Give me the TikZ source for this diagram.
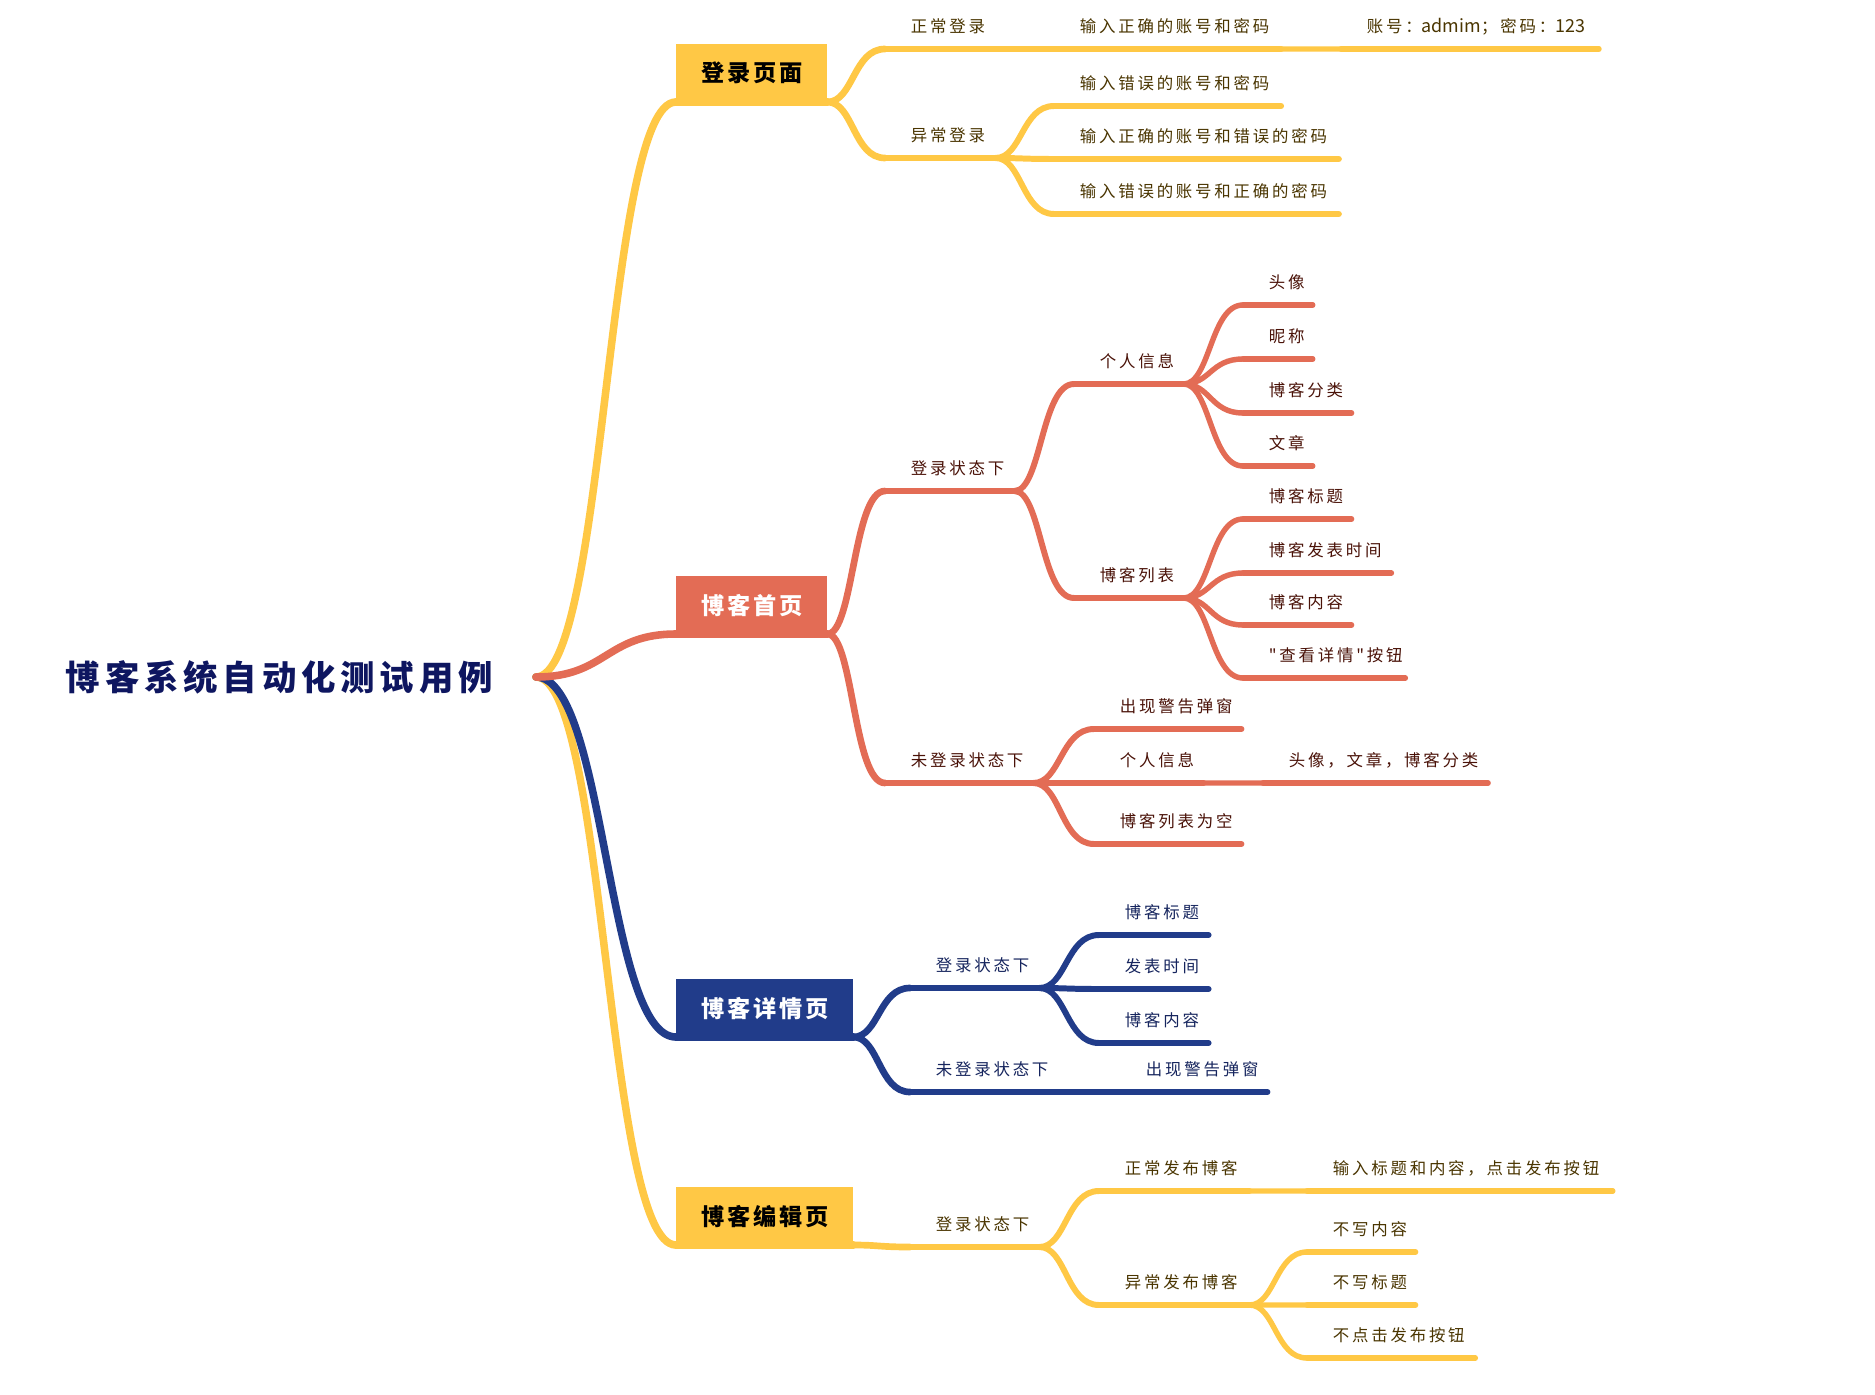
\documentclass[tikz,border=0pt]{standalone}
\usepackage{fontspec}
\usetikzlibrary{calc}
\newfontfamily\cjk[LetterSpace=17]{Noto Sans CJK SC}
\newfontfamily\cjkplain{Noto Sans CJK SC}
\newfontfamily\cjkbox[LetterSpace=12]{Noto Sans CJK SC}
\newfontfamily\cjkroot[LetterSpace=14]{Noto Sans CJK SC}
\definecolor{yel}{HTML}{FFC845}
\definecolor{rdc}{HTML}{E36C55}
\definecolor{blu}{HTML}{213C8A}
\definecolor{ytext}{HTML}{4A3500}
\definecolor{rtext}{HTML}{4A1208}
\definecolor{btext}{HTML}{16255E}
\definecolor{roottext}{HTML}{0E1660}
\newdimen\px \px=0.5669pt
\tikzset{
  lab/.style={inner sep=0pt, outer sep=0pt, text height=11pt, text depth=9.2pt, font=\cjk\fontsize{9.35pt}{11pt}\selectfont},
  ln/.style={line cap=round},
  yb/.style={color=yel, text=ytext},
  rb/.style={color=rdc, text=rtext},
  bb/.style={color=blu, text=btext},
  lA/.style={line width=4.3pt},
  lB/.style={line width=3.8pt},
  lC/.style={line width=3.4pt},
  lD/.style={line width=3.1pt},
  boxnode/.style={inner sep=0pt, outer sep=0pt, anchor=south west, minimum height=58\px, font=\cjkbox\bfseries\fontsize{13.2pt}{15pt}\selectfont},
}
% child node: #1 style, #2 name, #3 x, #4 y, #5 width(px), #6 text, #7 parent point
\newcommand\kid[7]{%
  \node[lab,#1,anchor=south west] (#2) at (#3,#4) {\makebox[#5\px][l]{\hspace*{14.74pt}#6}};
  \draw[ln,#1] (#2.south west) -- (#2.south east);
  \draw[ln,#1] (#7) .. controls ($(#7)!0.45!(#7 -| #2.south west)$) and ($(#2.south west)!0.55!(#2.south west -| #7)$) .. (#2.south west);
}
\newcommand\mainconn[3]{%
  \draw[ln,#1] (#2) .. controls ($(#2)!0.5!(#2 -| #3)$) and ($(#3)!0.5!(#3 -| #2)$) .. (#3);
}
\begin{document}
\begin{tikzpicture}[x=0.02cm,y=-0.02cm]
\useasboundingbox (0,0) rectangle (1875,1395);
\fill[white] (0,0) rectangle (1875,1395);

% root
\node[inner ysep=0pt, inner xsep=43\px, anchor=east, text=roottext,
      font=\cjkroot\bfseries\fontsize{19.6pt}{24pt}\selectfont] (root) at (536,677) {博客系统自动化测试用例};

% main boxes
\node[boxnode, fill=yel, text=black, minimum width=152\px] (L) at (676,102) {登录页面};
\node[boxnode, fill=rdc, text=white, minimum width=152\px] (H) at (676,634) {博客首页};
\node[boxnode, fill=blu, text=white, minimum width=178\px] (D) at (676,1037) {博客详情页};
\node[boxnode, fill=yel, text=black, minimum width=178\px] (E) at (676,1245) {博客编辑页};

% main connectors (draw blue/yellow lower first)
\mainconn{yel,lA}{root.east}{E.south west}
\mainconn{blu,lA}{root.east}{D.south west}
\mainconn{yel,lA}{root.east}{L.south west}
\mainconn{rdc,lA}{root.east}{H.south west}
\draw[ln,yel,lA] (L.south west) -- (L.south east);
\draw[ln,rdc,lA] (H.south west) -- (H.south east);
\draw[ln,blu,lA] (D.south west) -- (D.south east);
\draw[ln,yel,lA] (E.south west) -- (E.south east);

% ---- 登录页面
\kid{yb,lB}{a1}{885}{49}{111}{正常登录}{L.south east}
\kid{yb,lC}{a11}{1054}{49}{228}{输入正确的账号和密码}{a1.south east}
\kid{yb,lD}{a111}{1341}{49}{259}{账号：{\cjkplain\fontsize{10.2pt}{11pt}\selectfont admim}；密码：{\cjkplain\fontsize{10.2pt}{11pt}\selectfont 123}}{a11.south east}
\kid{yb,lB}{a2}{885}{158}{111}{异常登录}{L.south east}
\kid{yb,lC}{a21}{1054}{106}{228}{输入错误的账号和密码}{a2.south east}
\kid{yb,lC}{a22}{1054}{159}{286}{输入正确的账号和错误的密码}{a2.south east}
\kid{yb,lC}{a23}{1054}{214}{286}{输入错误的账号和正确的密码}{a2.south east}

% ---- 博客首页
\kid{rb,lB}{b1}{885}{491}{130}{登录状态下}{H.south east}
\kid{rb,lC}{b11}{1074}{384}{110}{个人信息}{b1.south east}
\kid{rb,lD}{b111}{1243}{305}{70}{头像}{b11.south east}
\kid{rb,lD}{b112}{1243}{359}{70}{昵称}{b11.south east}
\kid{rb,lD}{b113}{1243}{413}{109}{博客分类}{b11.south east}
\kid{rb,lD}{b114}{1243}{466}{70}{文章}{b11.south east}
\kid{rb,lC}{b12}{1074}{598}{110}{博客列表}{b1.south east}
\kid{rb,lD}{b121}{1243}{519}{109}{博客标题}{b12.south east}
\kid{rb,lD}{b122}{1243}{573}{149}{博客发表时间}{b12.south east}
\kid{rb,lD}{b123}{1243}{625}{109}{博客内容}{b12.south east}
\kid{rb,lD}{b124}{1243}{678}{163}{"查看详情"按钮}{b12.south east}
\kid{rb,lB}{b2}{885}{783}{149}{未登录状态下}{H.south east}
\kid{rb,lC}{b21}{1094}{729}{148}{出现警告弹窗}{b2.south east}
\kid{rb,lC}{b22}{1094}{783}{110}{个人信息}{b2.south east}
\kid{rb,lD}{b221}{1263}{783}{226}{头像，文章，博客分类}{b22.south east}
\kid{rb,lC}{b23}{1094}{844}{148}{博客列表为空}{b2.south east}

% ---- 博客详情页
\kid{bb,lB}{c1}{910}{988}{130}{登录状态下}{D.south east}
\kid{bb,lC}{c11}{1099}{935}{110}{博客标题}{c1.south east}
\kid{bb,lC}{c12}{1099}{989}{110}{发表时间}{c1.south east}
\kid{bb,lC}{c13}{1099}{1043}{110}{博客内容}{c1.south east}
\kid{bb,lB}{c2}{910}{1092}{149}{未登录状态下}{D.south east}
\kid{bb,lC}{c21}{1120}{1092}{148}{出现警告弹窗}{c2.south east}

% ---- 博客编辑页
\kid{yb,lB}{d1}{910}{1247}{130}{登录状态下}{E.south east}
\kid{yb,lC}{d11}{1099}{1191}{151}{正常发布博客}{d1.south east}
\kid{yb,lD}{d111}{1307}{1191}{307}{输入标题和内容，点击发布按钮}{d11.south east}
\kid{yb,lC}{d12}{1099}{1305}{151}{异常发布博客}{d1.south east}
\kid{yb,lD}{d121}{1307}{1252}{109}{不写内容}{d12.south east}
\kid{yb,lD}{d122}{1307}{1305}{109}{不写标题}{d12.south east}
\kid{yb,lD}{d123}{1307}{1358}{169}{不点击发布按钮}{d12.south east}
\end{tikzpicture}
\end{document}
